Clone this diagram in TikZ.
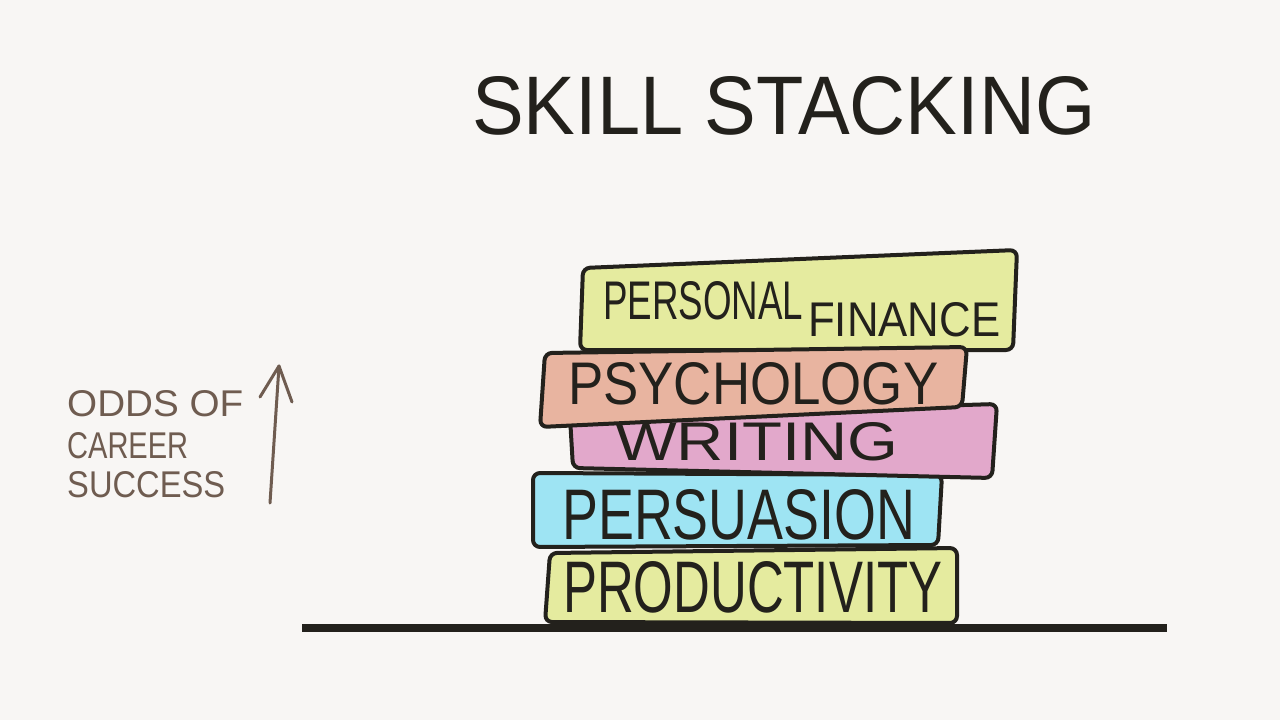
\documentclass[tikz,border=0pt]{standalone}
\usepackage{graphicx}
\usepackage{fontspec}
\setmainfont{Liberation Sans}
\definecolor{bg}{HTML}{F8F6F4}
\definecolor{ink}{HTML}{23211C}
\definecolor{brown}{HTML}{6F5C50}
\definecolor{yel}{HTML}{E5EB9F}
\definecolor{salmon}{HTML}{E8B4A0}
\definecolor{pink}{HTML}{E2A8CB}
\definecolor{cyanb}{HTML}{9EE4F3}
\tikzset{
  book/.style={draw=ink, line width=4pt, rounded corners=7pt, line join=round},
  lbl/.style={anchor=north west, inner sep=0pt, text=ink},
  side/.style={anchor=north west, inner sep=0pt, text=brown},
}
\begin{document}
\begin{tikzpicture}[x=1pt,y=-1pt]
\fill[bg] (0,0) rectangle (1280,720);
\useasboundingbox (0,0) rectangle (1280,720);
% title
\node[lbl] (title) at (472,76) {\resizebox{623pt}{58pt}{SKILL STACKING}};
% books
\filldraw[book, fill=yel] (545,622) -- (550,553) -- (957,548) -- (957,623) -- cycle;
\filldraw[book, fill=cyanb] (533,547) -- (533,473) -- (942,475) -- (938,545) -- cycle;
\filldraw[book, fill=pink] (573,468) -- (570,417) -- (997,404) -- (992,478) -- cycle;
\filldraw[book, fill=yel] (580,350) -- (583,268) -- (1017,250) -- (1013,350) -- cycle;
\filldraw[book, fill=salmon] (540,427) -- (545,353) -- (967,347) -- (962,407) -- cycle;
% labels
\node[lbl] (personal) at (603,281) {\resizebox{200pt}{38pt}{PERSONAL}};
\node[lbl] (finance) at (808,302) {\resizebox{192pt}{34pt}{FINANCE}};
\node[lbl] (psych) at (568,362) {\resizebox{370pt}{42pt}{PSYCHOLOGY}};
\node[lbl] (writing) at (615,422) {\resizebox{283pt}{38pt}{WRITING}};
\node[lbl] (persuasion) at (562,489) {\resizebox{353pt}{50pt}{PERSUASION}};
\node[lbl] (productivity) at (563,561) {\resizebox{379pt}{51pt}{PRODUCTIVITY}};
% ground
\coordinate (g1) at (302,628);
\coordinate (g2) at (1167,628);
\draw[ink, line width=8pt] (g1) -- (g2);
% side text
\node[side] (odds) at (67,390) {\resizebox{176pt}{26pt}{ODDS OF}};
\node[side] (career) at (67,432) {\resizebox{121pt}{26pt}{CAREER}};
\node[side] (success) at (67,471) {\resizebox{158pt}{26pt}{SUCCESS}};
% arrow
\coordinate (a0) at (270,503);
\coordinate (a1) at (279,366);
\coordinate (hl) at (260,397);
\coordinate (hr) at (292,402);
\draw[brown, line width=3pt, line cap=round, line join=round] (a0) -- (a1);
\draw[brown, line width=3pt, line cap=round, line join=round] (hl) -- (a1) -- (hr);
\end{tikzpicture}
\end{document}
